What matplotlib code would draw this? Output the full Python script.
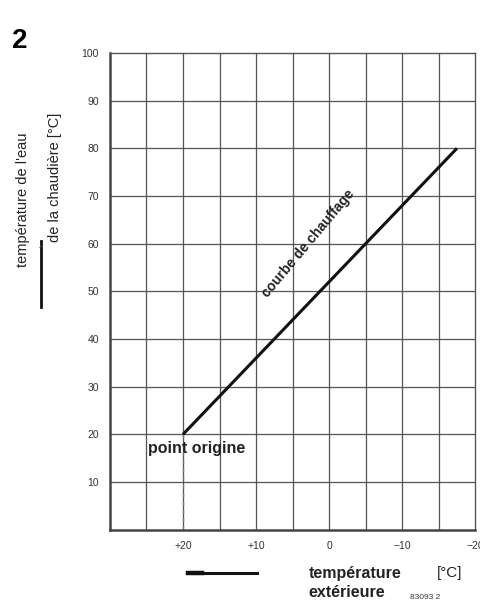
import numpy as np
import matplotlib.pyplot as plt

plt.rcParams['font.family'] = ['Liberation Sans', 'DejaVu Sans']

# données
t_ext = [20, -17.5]          # température extérieure [°C]
t_eau = [20, 80]             # température de l'eau de la chaudière [°C]
origine = (20, 20)
xticks = [20, 10, 0, -10, -20]
xticklabels = ["+20", "+10", "0", "\u221210", "\u221220"]
yticks = [10, 20, 30, 40, 50, 60, 70, 80, 90, 100]

fig = plt.figure(figsize=(4.8, 6.02), dpi=100)
ax = fig.add_axes([0.229, 0.12, 0.761, 0.792])

ax.set_xlim(30, -20)
ax.set_ylim(0, 100)

# grille
for xv in np.arange(25, -20, -5):
    ax.axvline(xv, color="#555555", lw=0.9, zorder=1)
for yv in np.arange(10, 100, 10):
    ax.axhline(yv, color="#555555", lw=0.9, zorder=1)

# point origine (pointillés)
ax.plot([30, origine[0]], [origine[1], origine[1]], ls=(0, (1, 2)), color="#777777", lw=1, zorder=2)
ax.plot([origine[0], origine[0]], [0, origine[1]], ls=(0, (3, 3)), color="#777777", lw=1, zorder=2)

# courbe de chauffage
ax.plot(t_ext, t_eau, color="#111111", lw=2.2, solid_capstyle="butt", zorder=3)

ax.text(2.8, 60, "courbe de chauffage", rotation=50, fontsize=10, fontweight="bold",
        color="#222222", ha="center", va="center", rotation_mode="anchor")
ax.text(24.8, 17, "point origine", fontsize=11.5, fontweight="bold", color="#222222",
        ha="left", va="center")

ax.set_xticks(xticks)
ax.set_xticklabels(xticklabels)
ax.set_yticks(yticks)
ax.tick_params(length=0, labelsize=7.5, labelcolor="#333333", pad=8)

for s in ["left", "bottom"]:
    ax.spines[s].set_linewidth(1.8)
    ax.spines[s].set_color("#444444")
for s in ["top", "right"]:
    ax.spines[s].set_linewidth(1.0)
    ax.spines[s].set_color("#555555")

# textes
fig.text(0.025, 0.932, "2", fontsize=20, fontweight="bold", ha="left", va="center")
fig.text(0.048, 0.668, "température de l'eau", rotation=90, fontsize=10.5, color="#222222",
         ha="center", va="center")
fig.text(0.114, 0.705, "de la chaudière [°C]", rotation=90, fontsize=10.5, color="#222222",
         ha="center", va="center")
fig.add_artist(plt.Line2D([0.085, 0.085], [0.49, 0.60], color="#111111", lw=2))
fig.text(0.085, 0.588, "^", fontsize=6, ha="center", va="center", color="#555555")

fig.add_artist(plt.Line2D([0.40, 0.535], [0.049, 0.049], color="#111111", lw=2.2))
fig.add_artist(plt.Line2D([0.392, 0.42], [0.049, 0.049], color="#111111", lw=3.2))

fig.text(0.644, 0.048, "température", fontsize=11.5, fontweight="bold", color="#222222",
         ha="left", va="center")
fig.text(0.91, 0.048, "[°C]", fontsize=11, color="#222222", ha="left", va="center")
fig.text(0.642, 0.015, "extérieure", fontsize=11.5, fontweight="bold", color="#222222",
         ha="left", va="center")
fig.text(0.855, 0.007, "83093 2", fontsize=6, color="#333333", ha="left", va="center")

plt.savefig("out.png", dpi=100)
